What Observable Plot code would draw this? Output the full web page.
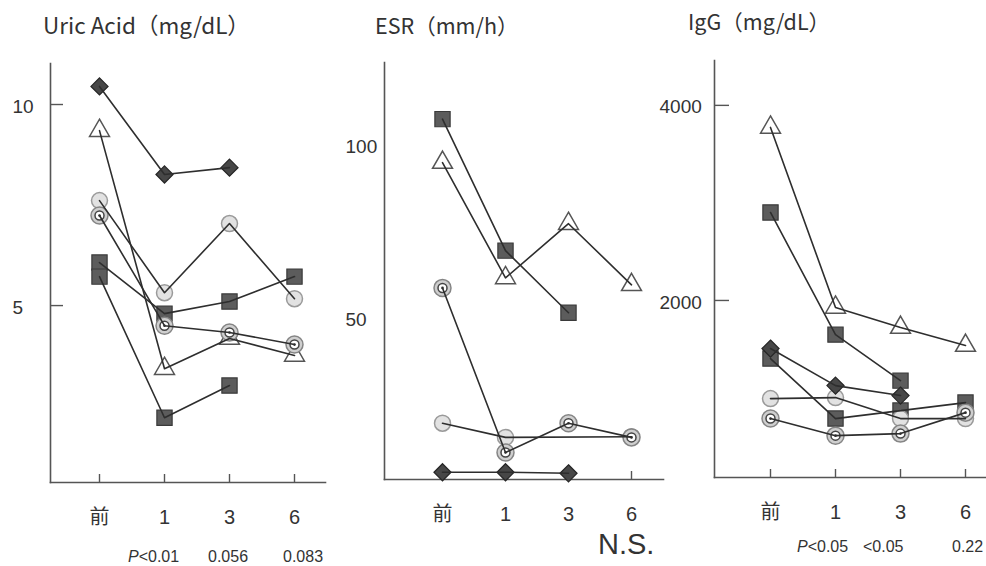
<!DOCTYPE html>
<html><head><meta charset="utf-8">
<script src="https://cdn.jsdelivr.net/npm/d3@7"></script>
<script src="https://cdn.jsdelivr.net/npm/@observablehq/plot@0.6"></script>
<style>
body{margin:0;background:#fff;}
#wrap{position:relative;width:986px;height:566px;overflow:hidden;background:#fff;}
.panel{position:absolute;top:0;height:566px;}
.t{position:absolute;white-space:nowrap;color:#333;line-height:1;}
.ttl{font-family:"Noto Sans CJK JP","Noto Sans",sans-serif;font-size:21.5px;}
.pv{font-family:"Liberation Sans",Arial,sans-serif;font-size:16px;}
</style></head><body><div id="wrap"></div>
<script>
// ---- data ----
const timepoints = ["前", "1", "3", "6"];
const patients = ["triangle", "squareA", "squareB", "circle", "doubleCircle", "diamond"];

// Uric Acid (mg/dL)
const uricTriangle     = [9.35, 3.43, 4.18, 3.76];
const uricSquareA      = [6.07, 4.80, 5.10, 5.72];
const uricSquareB      = [5.72, 2.21, 3.01, null];
const uricCircle       = [7.61, 5.32, 7.04, 5.17];
const uricDoubleCircle = [7.24, 4.50, 4.33, 4.03];
const uricDiamond      = [10.45, 8.26, 8.43, null];
const uricTicks = [5, 10];

// ESR (mm/h)
const esrTriangle     = [95, 61.6, 77.3, 59.6];
const esrSquareA      = [107.6, 69.5, 51.5, null];
const esrSquareB      = [null, null, null, null];
const esrCircle       = [19.5, 15.4, null, 15.6];
const esrDoubleCircle = [58.7, 11.0, 19.5, 15.4];
const esrDiamond      = [5.3, 5.3, 5.0, null];
const esrTicks = [50, 100];

// IgG (mg/dL)
const iggTriangle     = [3774, 1928, 1722, 1538];
const iggSquareA      = [2902, 1650, 1178, null];
const iggSquareB      = [1404, 789, 871, 953];
const iggCircle       = [994, 1004, 789, 789];
const iggDoubleCircle = [789, 614, 635, 850];
const iggDiamond      = [1507, 1127, 1025, null];
const iggTicks = [2000, 4000];

const pUric = ["P<0.01", "0.056", "0.083"];
const pEsr = "N.S.";
const pIgg = ["P<0.05", "<0.05", "0.22"];

function rows(series) {
  const out = [];
  patients.forEach((p, k) => {
    series[k].forEach((v, i) => { if (v != null) out.push({p, t: timepoints[i], v}); });
  });
  return out;
}

const styles = {
  triangle: {symbol: "triangle", r: 7.4, fill: "white", stroke: "#555", strokeWidth: 1.5},
  squareA: {symbol: "square", r: 8.6, fill: "#5c5c5c", stroke: "#3a3a3a", strokeWidth: 1.2},
  squareB: {symbol: "square", r: 8.6, fill: "#5c5c5c", stroke: "#3a3a3a", strokeWidth: 1.2},
  circle: {symbol: "circle", r: 8, fill: "#e2e2e2", stroke: "#9a9a9a", strokeWidth: 1.5},
  diamond: {symbol: "diamond2", r: 7.7, fill: "#474747", stroke: "#262626", strokeWidth: 1.2}
};

function markerMarks(data) {
  const marks = [];
  for (const p of patients) {
    const d = data.filter(r => r.p === p);
    if (p === "doubleCircle") {
      marks.push(Plot.dot(d, {x: "t", y: "v", r: 8.5, fill: "#cfcfcf", stroke: "#858585", strokeWidth: 1.5}));
      marks.push(Plot.dot(d, {x: "t", y: "v", r: 4.5, fill: "white", stroke: "#444", strokeWidth: 1.5}));
      marks.push(Plot.dot(d, {x: "t", y: "v", r: 1.3, fill: "#333"}));
    } else {
      marks.push(Plot.dot(d, {x: "t", y: "v", ...styles[p]}));
    }
  }
  return marks;
}

function panel({series, left, width, mL, mR, mT, mB, xr, yd, ticks, yTick, labelOffset, xTickSize}) {
  const data = rows(series);
  const plotW = width - mL - mR;
  const plotH = 566 - mT - mB;
  const marks = [
    Plot.frame({anchor: "left", stroke: "#555", strokeWidth: 1.6}),
    Plot.frame({anchor: "bottom", stroke: "#555", strokeWidth: 1.6}),
    Plot.axisY({ticks, tickSize: 0, tickPadding: labelOffset, textAnchor: "start", fontSize: 19, dy: 2, label: null, tickFormat: d => String(d)}),
    Plot.axisX({tickSize: 0, tickPadding: 27, fontSize: 20, label: null}),
    Plot.ruleX(timepoints, {x: d => d, insetTop: plotH - xTickSize, stroke: "#555", strokeWidth: 1.4})
  ];
  if (yTick > 0) marks.push(Plot.ruleY(ticks, {y: d => d, insetRight: plotW - yTick, stroke: "#555", strokeWidth: 1.4}));
  marks.push(...markerMarks(data));
  marks.push(Plot.line(data, {x: "t", y: "v", z: "p", stroke: "#2e2e2e", strokeWidth: 1.6}));
  const plot = Plot.plot({
    width, height: 566,
    marginLeft: mL, marginRight: mR, marginTop: mT, marginBottom: mB,
    style: {background: "transparent", fontFamily: "'Liberation Sans', Arial, 'Noto Sans CJK JP', sans-serif", color: "#333", overflow: "visible"},
    x: {type: "point", domain: timepoints, range: xr, padding: 0},
    y: {domain: yd},
    marks
  });
  const div = document.createElement("div");
  div.className = "panel";
  div.style.left = left + "px";
  div.style.width = width + "px";
  div.appendChild(plot);
  document.getElementById("wrap").appendChild(div);
}

panel({series: [uricTriangle, uricSquareA, uricSquareB, uricCircle, uricDoubleCircle, uricDiamond],
  left: 0, width: 335, mL: 50, mR: 10, mT: 63, mB: 84, xr: [99, 294], yd: [0.6, 11.02], ticks: uricTicks, yTick: 13, labelOffset: 38, xTickSize: 8});
panel({series: [esrTriangle, esrSquareA, esrSquareB, esrCircle, esrDoubleCircle, esrDiamond],
  left: 330, width: 340, mL: 54, mR: 7, mT: 62, mB: 87, xr: [111, 302], yd: [3.2, 124], ticks: esrTicks, yTick: 0, labelOffset: 39, xTickSize: 8});
panel({series: [iggTriangle, iggSquareA, iggSquareB, iggCircle, iggDoubleCircle, iggDiamond],
  left: 650, width: 336, mL: 64, mR: 0, mT: 60, mB: 89, xr: [120, 315], yd: [185, 4460], ticks: iggTicks, yTick: 15, labelOffset: 55, xTickSize: 8});

function addText(html, left, top, cls, extra) {
  const d = document.createElement("div");
  d.className = "t " + cls;
  d.style.left = left + "px";
  d.style.top = top + "px";
  if (extra) Object.assign(d.style, extra);
  d.innerHTML = html;
  document.getElementById("wrap").appendChild(d);
}
function pHtml(s) { return s.replace("<", "&lt;").replace(/^P/, "<i>P</i>"); }

addText("Uric Acid（mg/dL）", 43, 13, "ttl", {fontSize: "22.5px"});
addText("ESR（mm/h）", 375, 14, "ttl");
addText("IgG（mg/dL）", 688, 10, "ttl");

[128, 208, 283].forEach((x, i) => addText(pHtml(pUric[i]), x, 549, "pv"));
[797, 863, 952].forEach((x, i) => addText(pHtml(pIgg[i]), x, 539, "pv"));
addText(pEsr, 598, 530, "pv", {fontSize: "29px"});
</script></body></html>
